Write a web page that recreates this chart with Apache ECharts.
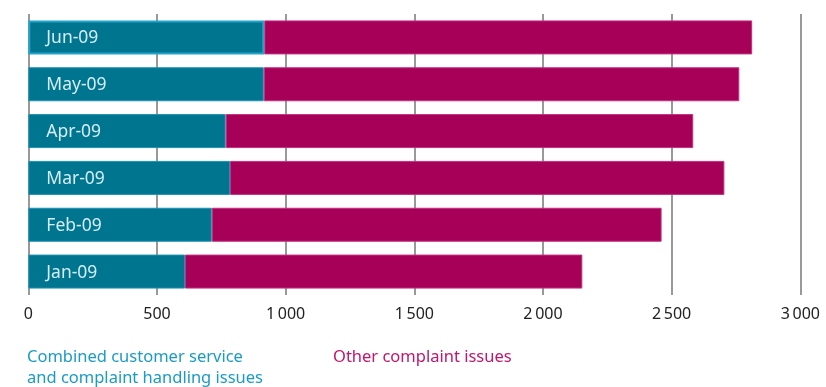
<!DOCTYPE html>
<html>
<head>
<meta charset="utf-8">
<script src="https://cdn.jsdelivr.net/npm/echarts@6/dist/echarts.min.js"></script>
<style>
  html, body { margin: 0; padding: 0; background: #fff; }
  #chart { width: 826px; height: 387px; }
</style>
</head>
<body>
<div id="chart"></div>
<script>
// Monthly complaint counts, Jan–Jun 2009
const months = ['Jan-09', 'Feb-09', 'Mar-09', 'Apr-09', 'May-09', 'Jun-09'];
const serviceHandling = [609, 713, 784, 767, 915, 917];
const otherIssues = [1544, 1748, 1921, 1817, 1848, 1896];
const xTicks = [0, 500, 1000, 1500, 2000, 2500, 3000];

const seriesNames = ['Combined customer service\nand complaint handling issues', 'Other complaint issues'];
const FONT = '"Noto Sans", "DejaVu Sans", sans-serif';

const chart = echarts.init(document.getElementById('chart'), null, { renderer: 'canvas' });

function fmtThousands(v) {
  return String(v).replace(/\B(?=(\d{3})+(?!\d))/g, '\u2009');
}

chart.setOption({
  animation: false,
  grid: { left: 28.3, right: 25.7, top: 14, height: 281 },
  xAxis: {
    type: 'value',
    min: xTicks[0],
    max: xTicks[xTicks.length - 1],
    interval: 500,
    axisLine: { show: false },
    axisTick: { show: false },
    splitLine: { show: true, lineStyle: { color: '#777', width: 1.5 } },
    axisLabel: {
      color: '#222', fontFamily: FONT, fontSize: 16, margin: 11,
      formatter: v => fmtThousands(v)
    }
  },
  yAxis: {
    type: 'category',
    data: months,
    axisLine: { show: false },
    axisTick: { show: false },
    axisLabel: { show: false }
  },
  series: [
    {
      name: seriesNames[0],
      type: 'bar',
      stack: 'total',
      barWidth: 34,
      data: serviceHandling.map((v, i) => ({
        value: v,
        itemStyle: i === months.length - 1 ? { borderColor: '#22a4cc', borderWidth: 2 } : {}
      })),
      itemStyle: { color: '#00758f', borderColor: '#1d93b6', borderWidth: 1 },
      label: {
        show: true,
        position: 'insideLeft',
        distance: 18,
        offset: [0, 1],
        formatter: p => months[p.dataIndex],
        color: '#d4ecf3',
        fontFamily: FONT,
        fontSize: 17.5
      }
    },
    {
      name: seriesNames[1],
      type: 'bar',
      stack: 'total',
      barWidth: 34,
      data: otherIssues,
      itemStyle: { color: '#a60058', borderColor: '#c2307f', borderWidth: 1 }
    }
  ],
  graphic: [
    {
      type: 'text', left: 27, top: 347,
      style: { text: seriesNames[0], fill: '#1a9cc2', font: '16.5px ' + FONT, lineHeight: 21 }
    },
    {
      type: 'text', left: 333, top: 347,
      style: { text: seriesNames[1], fill: '#c0166c', font: '16.5px ' + FONT, lineHeight: 21 }
    }
  ]
});
</script>
</body>
</html>
